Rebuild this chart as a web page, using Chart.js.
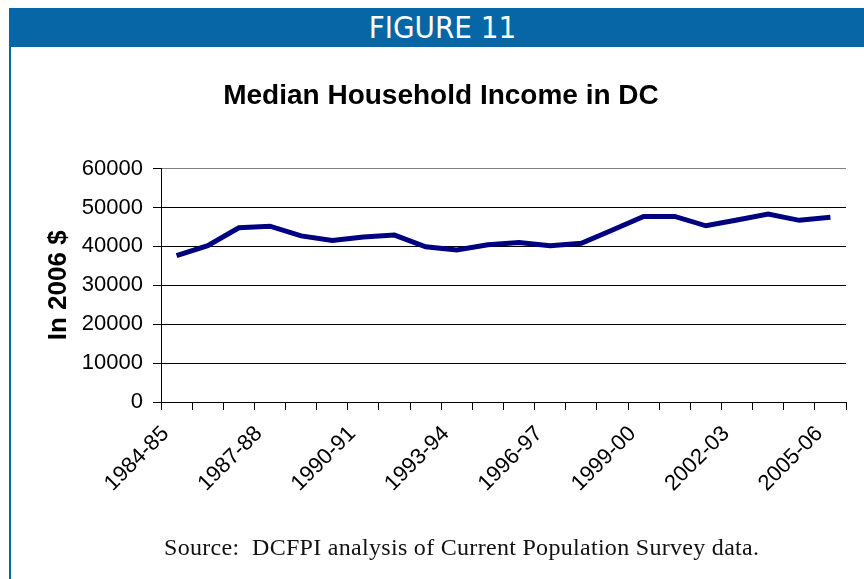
<!DOCTYPE html>
<html>
<head>
<meta charset="utf-8">
<script src="https://cdn.jsdelivr.net/npm/chart.js@4/dist/chart.umd.min.js"></script>
<style>
  html, body { margin: 0; padding: 0; background: #fff; }
  #page { position: relative; width: 864px; height: 579px; overflow: hidden; }
  #banner {
    position: absolute; left: 9px; top: 8px; width: 855px; height: 39px;
    background: #0767a6; color: #fff;
    font-family: "Liberation Sans Narrow", "DejaVu Sans Condensed", sans-serif;
    font-size: 31px; line-height: 39px; text-align: center; text-indent: 12px;
  }
  #leftRule { position: absolute; left: 9px; top: 8px; width: 2px; height: 571px; background: #0767a6; }
  #source {
    position: absolute; left: 164px; top: 534px;
    font-family: "Liberation Serif", serif; font-size: 24px; letter-spacing: 0.3px;
    color: #111; white-space: pre;
  }
  #chart { position: absolute; left: 0; top: 0; }
</style>
</head>
<body>
<div id="page">
  <div id="banner">FIGURE 11</div>
  <div id="leftRule"></div>
  <canvas id="chart" width="864" height="579"></canvas>
  <div id="source">Source:  DCFPI analysis of Current Population Survey data.</div>
</div>
<script>
// ==================== DATA ====================
const years = ['1984-85','1985-86','1986-87','1987-88','1988-89','1989-90','1990-91','1991-92',
  '1992-93','1993-94','1994-95','1995-96','1996-97','1997-98','1998-99','1999-00',
  '2000-01','2001-02','2002-03','2003-04','2004-05','2005-06'];
const income = [37600, 40200, 44800, 45200, 42700, 41500, 42400, 42900,
  39900, 39100, 40400, 41000, 40200, 40800, 44200, 47700,
  47700, 45300, 46800, 48300, 46700, 47500];
const yTicks = [0, 10000, 20000, 30000, 40000, 50000, 60000];

const chartTitle = 'Median Household Income in DC';
const yTitle = 'In 2006 $';

// ==================== CHART ====================
const sans = 'Liberation Sans, Arial, sans-serif';

new Chart(document.getElementById('chart'), {
  type: 'line',
  data: {
    labels: years,
    datasets: [{
      data: income,
      borderColor: '#000080',
      borderWidth: 5,
      pointRadius: 0,
      tension: 0,
      fill: false
    }]
  },
  options: {
    responsive: false,
    animation: false,
    layout: { padding: { left: 36, right: 18, top: 0, bottom: 0 } },
    plugins: {
      legend: { display: false },
      tooltip: { enabled: false },
      title: {
        display: true,
        text: chartTitle,
        color: '#000',
        font: { family: sans, size: 28, weight: 'bold' },
        padding: { top: 79, bottom: 56 }
      }
    },
    scales: {
      x: {
        offset: true,
        grid: {
          offset: true,
          drawOnChartArea: true,
          // only the last boundary line shows, as the grey right frame
          color: ctx => ctx.index === years.length ? '#808080' : 'rgba(0,0,0,0)',
          tickColor: '#000',
          tickLength: 8
        },
        border: { color: '#000', width: 1 },
        ticks: {
          autoSkip: false,
          maxRotation: 45,
          minRotation: 45,
          padding: 11,
          labelOffset: -11,
          color: '#000',
          font: { family: sans, size: 22 },
          callback: (v, i) => i % 3 === 0 ? years[i] : ''
        },
        afterFit: scale => { scale.height = 177; }
      },
      y: {
        min: 0,
        max: 60000,
        afterBuildTicks: scale => { scale.ticks = yTicks.map(v => ({ value: v })); },
        grid: {
          color: ctx => ctx.tick && ctx.tick.value === 60000 ? '#808080' : '#000',
          tickColor: '#000',
          tickLength: 8,
          lineWidth: 1
        },
        border: { color: '#000', width: 1 },
        ticks: {
          padding: 10,
          color: '#000',
          font: { family: sans, size: 22 },
          callback: v => String(v)
        },
        title: {
          display: true,
          text: yTitle,
          color: '#000',
          font: { family: sans, size: 26, weight: 'bold' },
          padding: { top: 7, bottom: 0 }
        },
        afterFit: scale => { scale.width = 125; }
      }
    }
  }
});
</script>
</body>
</html>
